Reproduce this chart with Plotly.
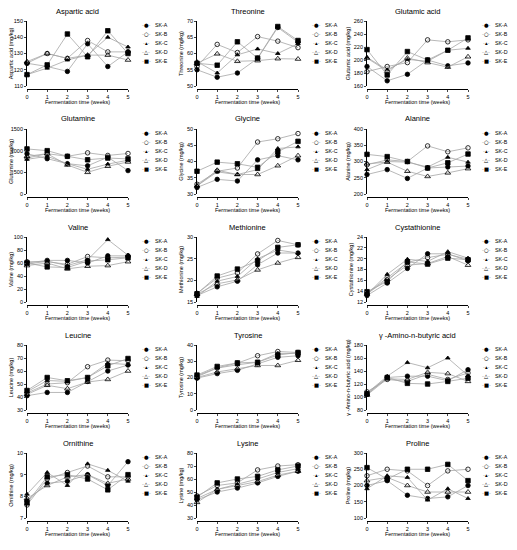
import plotly.graph_objects as go

weeks = [0, 1, 2, 3, 4, 5]
samples = ["SK-A", "SK-B", "SK-C", "SK-D", "SK-E"]

# values per sample (SK-A .. SK-E), mg/kg
aspartic_acid = [[124, 122, 119, 136, 122, 131], [124, 130, 127, 138, 131, 131], [117, 121, 126, 129, 140, 134],
                 [125, 130, 127, 129, 129, 126], [117, 123, 142, 128, 144, 130]]
threonine = [[55, 52.7, 54, 58.5, 68, 63.5], [56, 62.8, 60.3, 65.2, 63.8, 61.8], [57.5, 54, 59.6, 61.4, 60, 63],
             [57, 59.9, 57.6, 57.8, 58.4, 58.3], [57, 56.4, 63.6, 58.6, 68.3, 64]]
glutamic_acid = [[190, 168, 178, 200, 191, 195.5], [182, 190, 196, 231, 228, 231], [204, 185, 201, 198, 215, 218],
                 [203, 183, 203, 196, 189, 205], [216, 177, 213, 200, 215, 234]]
glutamine = [[930, 815, 700, 650, 850, 540], [830, 930, 870, 950, 890, 935], [800, 870, 700, 570, 690, 780],
             [870, 930, 670, 500, 640, 740], [1040, 1000, 870, 790, 830, 810]]
glycine = [[32, 34.5, 34, 40.5, 41.8, 40.5], [33, 37, 38, 46, 47, 48.6], [32.5, 36.8, 36, 37.5, 44, 44.5],
           [32.5, 37.3, 36, 36, 38.7, 41.8], [37, 39.8, 39.3, 38.2, 43, 46.2]]
alanine = [[260, 275, 248, 280, 283, 286], [290, 305, 300, 348, 330, 342], [275, 300, 298, 283, 313, 298],
           [293, 298, 270, 254, 265, 278], [322, 315, 300, 280, 296, 323]]
valine = [[60, 64, 64, 60, 71, 71], [62, 62, 58, 70, 68, 69], [58, 63, 56, 65, 96, 72],
          [56, 60, 51, 55, 56, 62], [60, 54, 53, 63, 65, 68]]
methionine = [[16.5, 18.5, 19.8, 23.6, 26.3, 26.3], [17, 20.5, 21.7, 26.1, 29.2, 28.2], [16.3, 19.8, 20.9, 25, 27, 26.3],
              [16.8, 19.2, 20.1, 22.4, 24, 25.3], [16.9, 21, 22.6, 24.5, 27.6, 28.2]]
cystathionine = [[13.2, 15.5, 18.2, 20.9, 20.9, 19.6], [13.6, 16.5, 19.3, 20.2, 20.8, 19.9], [13.4, 17.1, 19.9, 19.5, 21.3, 20.1],
                 [13.5, 16.2, 18.8, 19.1, 20.4, 18.8], [13.9, 15.8, 19.4, 19.0, 20.1, 19.8]]
leucine = [[41, 43.5, 43.5, 52, 60, 64.6], [43, 50, 51, 63.3, 68.4, 67.9], [44, 52.7, 52, 55, 66, 65],
           [42, 49, 46.4, 51.5, 53.5, 60], [45, 55, 52.5, 55, 64, 69.6]]
tyrosine = [[19.6, 22.4, 24.4, 28.4, 32.4, 33.4], [21, 26, 28.8, 33.4, 36, 35.4], [20.5, 25.8, 27.8, 29.4, 34.8, 34.8],
            [20, 23.4, 25.4, 27.4, 27.4, 30.6], [21.5, 26.8, 29, 29.4, 33.8, 35.4]]
gaba = [[104, 130, 132, 132, 125, 142], [108, 127, 124, 135, 127, 137], [106, 132, 153, 145, 160, 133],
        [103, 128, 127, 138, 136, 124], [105, 130, 121, 120, 124, 129]]
ornithine = [[7.8, 8.6, 8.7, 9.0, 8.5, 9.6], [7.6, 8.8, 9.1, 9.4, 8.9, 8.9], [8.1, 9.1, 8.5, 9.5, 9.2, 8.7],
             [7.9, 8.5, 8.9, 9.0, 8.6, 8.8], [7.7, 8.9, 9.0, 8.8, 8.3, 9.0]]
lysine = [[44, 50, 53, 57, 62, 66], [47, 55, 57, 67, 70, 71], [45, 52, 56, 60, 65, 68],
          [42, 52, 55, 58, 63, 66], [46, 57, 60, 62, 67, 70]]
proline = [[200, 215, 170, 160, 165, 200], [230, 250, 245, 200, 245, 250], [190, 230, 225, 155, 190, 160],
           [215, 225, 200, 180, 180, 180], [255, 220, 250, 250, 265, 215]]

panel_data = [aspartic_acid, threonine, glutamic_acid, glutamine, glycine, alanine, valine, methionine,
              cystathionine, leucine, tyrosine, gaba, ornithine, lysine, proline]
panel_titles = ["Aspartic acid", "Threonine", "Glutamic acid", "Glutamine", "Glycine", "Alanine",
                "Valine", "Methionine", "Cystathionine", "Leucine", "Tyrosine", "γ -Amino-n-butyric acid",
                "Ornithine", "Lysine", "Proline"]
y_ticks = [[110, 120, 130, 140, 150], [50, 55, 60, 65, 70], [160, 180, 200, 220, 240, 260],
           [0, 500, 1000, 1500], [30, 35, 40, 45, 50], [200, 250, 300, 350, 400],
           [0, 20, 40, 60, 80, 100], [15, 20, 25, 30], [12, 14, 16, 18, 20, 22, 24],
           [30, 40, 50, 60, 70, 80], [0, 10, 20, 30, 40], [80, 100, 120, 140, 160, 180],
           [7, 8, 9, 10], [30, 40, 50, 60, 70, 80], [100, 150, 200, 250, 300]]

# page body has an 8px margin; keep the figure inside the window so no scrollbars appear
OFF = 8
W, H = 517 - 2 * OFF, 550 - 2 * OFF


def px(x):
    return (x - OFF) / W


def py(y):
    return 1 - (y - OFF) / H


markers = [dict(symbol="circle", size=4.5), dict(symbol="circle-open", size=4.5),
           dict(symbol="triangle-up", size=4), dict(symbol="triangle-up-open", size=5),
           dict(symbol="square", size=4.5)]
legend_glyphs = ["●", "○", "▴", "△", "■"]

col_left = [27, 197, 367]
plot_w = 101
font = "Liberation Sans, Arial"

fig = go.Figure()
annotations = []
layout = {}

for i, title in enumerate(panel_titles):
    r, c = divmod(i, 3)
    top = 21 + 108 * r
    bot = top + 65
    x0 = col_left[c]
    n = "" if i == 0 else str(i + 1)

    for k, name in enumerate(samples):
        fig.add_trace(go.Scatter(
            x=weeks, y=panel_data[i][k], name=name, mode="lines+markers",
            line=dict(color="#a6a6a6", width=0.8),
            marker=dict(color="black", line=dict(color="black", width=0.8), **markers[k]),
            xaxis="x" + n, yaxis="y" + n, showlegend=False, cliponaxis=False))

    ticks = y_ticks[i]
    layout["xaxis" + n] = dict(
        domain=[px(x0), px(x0 + plot_w)], anchor="free", position=py(bot + 3),
        range=[0, 5], tickvals=weeks, showline=True, linecolor="black", linewidth=0.8,
        ticks="outside", ticklen=2, tickwidth=0.8, showgrid=False, zeroline=False, automargin=False,
        tickfont=dict(size=5.5, family=font, color="black"),
        title=dict(text="Fermentation time (weeks)", font=dict(size=5.5, family=font, color="black"), standoff=1))
    layout["yaxis" + n] = dict(
        domain=[py(bot), py(top)], anchor="x" + n, range=[ticks[0], ticks[-1]],
        tickvals=ticks, showline=True, linecolor="black", linewidth=0.8, automargin=False,
        ticks="outside", ticklen=2, tickwidth=0.8, showgrid=False, zeroline=False,
        tickfont=dict(size=5.5, family=font, color="black"),
        title=dict(text=title + " (mg/kg)", font=dict(size=5.5, family=font, color="black"), standoff=2))

    annotations.append(dict(text=title, x=px(x0 + plot_w / 2), y=py(top - 10), xref="paper", yref="paper",
                            xanchor="center", yanchor="middle", showarrow=False,
                            font=dict(size=7.5, family=font, color="black")))
    # legend block to the right of each panel
    for k, name in enumerate(samples):
        ly = py(top + 4 + 9 * k)
        annotations.append(dict(
            text="<span style='color:#999999'>-</span>" + legend_glyphs[k] + "<span style='color:#999999'>-</span>",
            x=px(x0 + 119), y=ly, xref="paper", yref="paper", showarrow=False, xanchor="center", yanchor="middle",
            font=dict(size=5.3, family="DejaVu Sans", color="black")))
        annotations.append(dict(text=name, x=px(x0 + 126), y=ly, xref="paper", yref="paper", showarrow=False,
                                xanchor="left", yanchor="middle", font=dict(size=5.3, family=font, color="black")))

fig.update_layout(**layout)
fig.update_layout(width=W, height=H, margin=dict(l=0, r=0, t=0, b=0, autoexpand=False), plot_bgcolor="white",
                  paper_bgcolor="white", annotations=annotations, showlegend=False)

fig.write_html("out.html")
